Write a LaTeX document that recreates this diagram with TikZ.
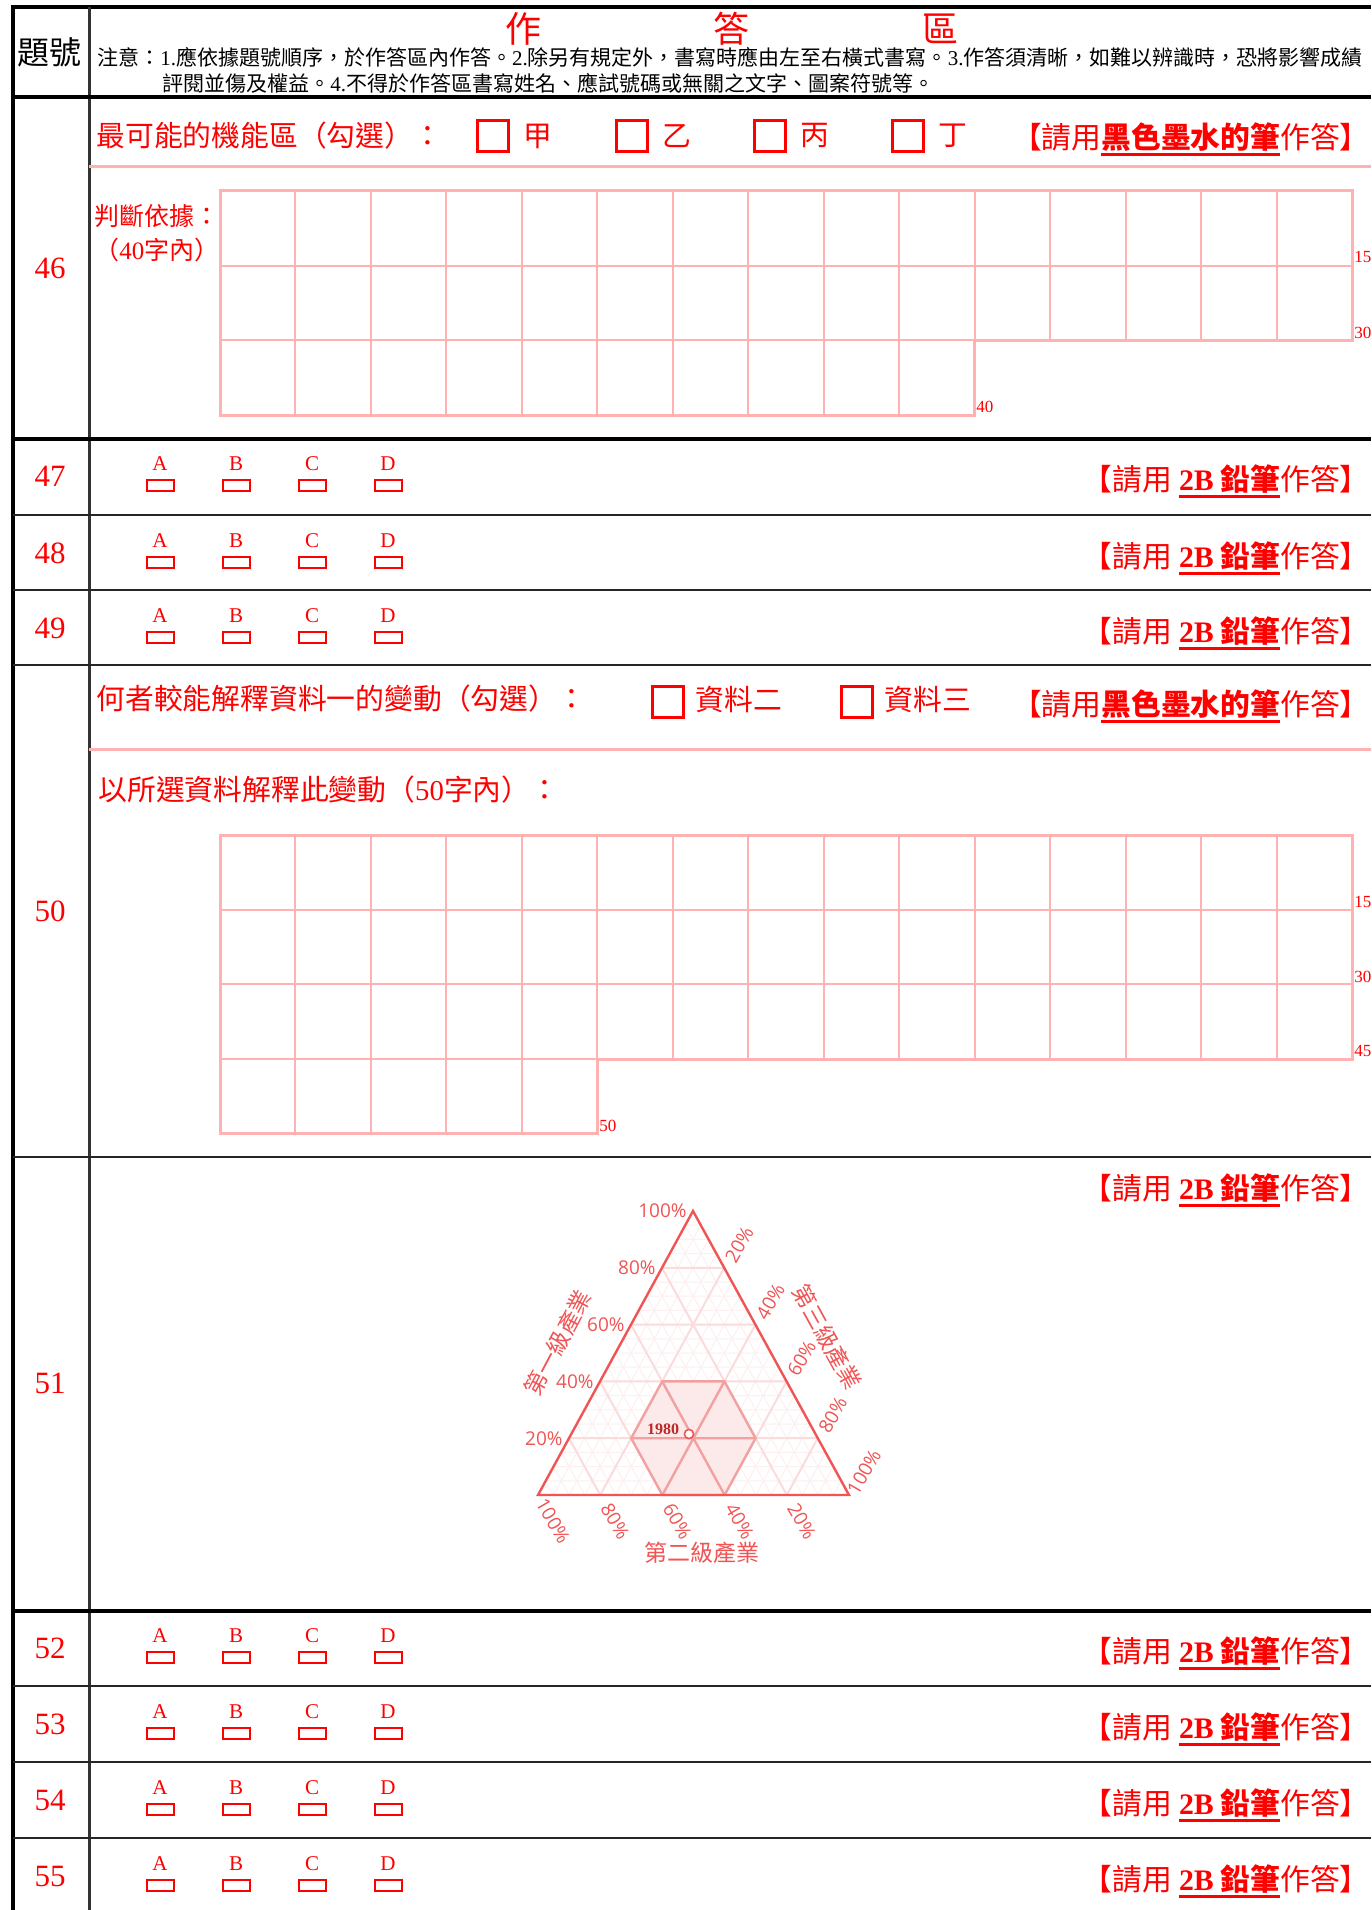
\documentclass[tikz,border=0pt]{standalone}
\usepackage{fontspec}
\setmainfont{Liberation Serif}
\newfontfamily\cjk{Noto Sans CJK TC}
\newfontfamily\trisans{Open Sans}
\newcommand\sz[1]{\fontsize{#1pt}{#1pt}\selectfont}
\newcommand\redul[1]{\setbox0\hbox{#1}\rlap{\color{red}\rule[-3.8pt]{\wd0}{1.5pt}}\box0}
\definecolor{gridpink}{RGB}{255,178,178}
\definecolor{trired}{RGB}{240,84,84}
\definecolor{hexline}{RGB}{242,160,160}
\definecolor{hexfill}{RGB}{252,234,234}
\definecolor{finepink}{RGB}{253,240,240}
\definecolor{midpink}{RGB}{250,220,220}
\definecolor{yrred}{RGB}{190,40,40}

\begin{document}
\begin{tikzpicture}[x=0.5pt,y=-0.5pt,
  frame/.style={line width=2pt},
  rowline/.style={line width=1pt,black!85},
  cell/.style={gridpink,line width=1pt},
  cellframe/.style={gridpink,line width=1.5pt},
  checkbox/.style={red,line width=1.5pt},
  optbox/.style={red,line width=1pt},
  q/.style={red,anchor=west,inner sep=0pt,font=\cjk\sz{14.4}},
  hint/.style={red,anchor=west,inner sep=0pt,font=\cjk\sz{12.5}},
  note/.style={anchor=west,inner sep=0pt,font=\cjk\sz{10.5}},
  ink/.style={red,anchor=east,inner sep=0pt,font=\cjk\sz{14.9}},
  num/.style={red,inner sep=0pt,font=\sz{15.5}},
  letter/.style={red,inner sep=0pt,font=\sz{10.5}},
  count/.style={red,anchor=base west,inner sep=0pt,font=\sz{8.5}},
  finegrid/.style={finepink,line width=0.5pt},
  maingrid/.style={midpink,line width=1pt},
  pct/.style={trired,inner sep=0pt,font=\trisans\sz{9.5}},
  axis/.style={trired,inner sep=0pt,font=\cjk\sz{11.5}}]

\useasboundingbox (0,0) rectangle (1371,1910);
\fill[white] (0,0) rectangle (1371,1910);

\draw[frame] (10.5,6.7) -- (1371,6.7);
\draw[frame] (12.5,5) -- (12.5,1910);
\draw[line width=1.2pt,black!80] (89.3,6.7) -- (89.3,1910);
\foreach \ry in {97,438.5,1610.5}
\draw[frame] (12.5,\ry) -- (1371,\ry);
\foreach \ry in {515,590,665,1157,1686,1762,1838}
\draw[rowline] (12.5,\ry) -- (1371,\ry);

\node[font=\cjk\sz{16}] (tihao) at (50,52) {題號};
\foreach \x/\g in {523/作,731/答,940/區}
\node[red,font=\cjk\sz{18}] (title\x) at (\x,29) {\g};
\node[note] (note1) at (97,57) {注意：{\rmfamily 1.}應依據題號順序，於作答區內作答。{\rmfamily 2.}除另有規定外，書寫時應由左至右橫式書寫。{\rmfamily 3.}作答須清晰，如難以辨識時，恐將影響成績};
\node[note] (note2) at (162,83) {評閱並傷及權益。{\rmfamily 4.}不得於作答區書寫姓名、應試號碼或無關之文字、圖案符號等。};

\node[num] (no46) at (50,268) {46};
\node[q] (q46) at (96,136) {最可能的機能區（勾選）：};
\foreach \x/\g in {493/甲,632/乙,770/丙,908/丁}{
\draw[checkbox] (\x-15.5,120.5) rectangle ++(31,31);
\node[q] (zone\x) at (\x+30,136) {\g};
}
\node[ink] (ink46) at (1370,139) {【請用\redul{\bfseries 黑色墨水的筆}作答】};
\draw[cellframe] (89.3,167) -- (1371,167);
\node[hint] (basis) at (94,216) {判斷依據：};
\node[hint] (limit40) at (94,250) {（{\rmfamily 40}字內）};
\foreach \r in {0,1}
\foreach \c in {0,...,14}
\draw[cell] (220+\c*75.47,191+\r*74.7) rectangle ++(75.47,74.7);
\foreach \c in {0,...,9}
\draw[cell] (220+\c*75.47,340.4) rectangle ++(75.47,74.7);
\draw[cellframe] (220,191) -- (1352,191) -- (1352,340.4) -- (974.7,340.4) -- (974.7,415.1) -- (220,415.1) -- cycle;
\node[count] (c46a) at (1354,263) {15};
\node[count] (c46b) at (1354,338) {30};
\node[count] (c46c) at (976,412) {40};

\foreach \n/\rt in {47/438,48/515,49/590,52/1610,53/1686,54/1762,55/1838}{
\node[num] (no\n) at (50,\rt+38) {\n};
\foreach \opt [count=\ci from 0] in {A,B,C,D}{
\node[letter] (opt\n\opt) at (160+\ci*76,\rt+26) {\opt};
\draw[optbox] (146.5+\ci*76,\rt+42) rectangle ++(27,11);
}
\node[ink] (ink\n) at (1370,\rt+43) {【請用 \redul{\bfseries{\rmfamily 2B} 鉛筆}作答】};
}

\node[num] (no50) at (50,911) {50};
\node[q] (q50) at (96,699) {何者較能解釋資料一的變動（勾選）：};
\foreach \x/\g in {668/資料二,857/資料三}{
\draw[checkbox] (\x-15.5,686.5) rectangle ++(31,31);
\node[q] (data\x) at (\x+27,700) {\g};
}
\node[ink] (ink50) at (1370,706) {【請用\redul{\bfseries 黑色墨水的筆}作答】};
\draw[cellframe] (89.3,749) -- (1371,749);
\node[q] (ask50) at (98,790) {以所選資料解釋此變動（{\rmfamily 50}字內）：};
\foreach \r in {0,1,2}
\foreach \c in {0,...,14}
\draw[cell] (220+\c*75.47,835+\r*74.7) rectangle ++(75.47,74.7);
\foreach \c in {0,...,4}
\draw[cell] (220+\c*75.47,1059.1) rectangle ++(75.47,74.7);
\draw[cellframe] (220,835) -- (1352,835) -- (1352,1059.1) -- (597.4,1059.1) -- (597.4,1133.8) -- (220,1133.8) -- cycle;
\node[count] (c50a) at (1354,907) {15};
\node[count] (c50b) at (1354,982) {30};
\node[count] (c50c) at (1354,1056) {45};
\node[count] (c50d) at (599,1131) {50};

\node[num] (no51) at (50,1383) {51};
\node[ink] (ink51) at (1370,1190) {【請用 \redul{\bfseries{\rmfamily 2B} 鉛筆}作答】};
\coordinate (top) at (693,1211);
\coordinate (lft) at (538,1495);
\coordinate (rgt) at (849,1495);
\foreach \k [evaluate=\k as \ta using \k/20, evaluate=\k as \tb using 1-\k/20] in {1,...,19}
\draw[finegrid] (barycentric cs:top=\ta,lft=\tb,rgt=0) -- (barycentric cs:top=\ta,lft=0,rgt=\tb)
(barycentric cs:lft=\ta,top=\tb,rgt=0) -- (barycentric cs:lft=\ta,top=0,rgt=\tb)
(barycentric cs:rgt=\ta,top=\tb,lft=0) -- (barycentric cs:rgt=\ta,top=0,lft=\tb);
\foreach \k [evaluate=\k as \ta using \k/5, evaluate=\k as \tb using 1-\k/5] in {1,...,4}
\draw[maingrid] (barycentric cs:top=\ta,lft=\tb,rgt=0) -- (barycentric cs:top=\ta,lft=0,rgt=\tb)
(barycentric cs:lft=\ta,top=\tb,rgt=0) -- (barycentric cs:lft=\ta,top=0,rgt=\tb)
(barycentric cs:rgt=\ta,top=\tb,lft=0) -- (barycentric cs:rgt=\ta,top=0,lft=\tb);
\coordinate (hc) at (barycentric cs:top=0.2,lft=0.4,rgt=0.4);
\coordinate (h1) at (barycentric cs:top=0.4,lft=0.4,rgt=0.2);
\coordinate (h2) at (barycentric cs:top=0.4,lft=0.2,rgt=0.4);
\coordinate (h3) at (barycentric cs:top=0.2,lft=0.2,rgt=0.6);
\coordinate (h4) at (barycentric cs:top=0,lft=0.4,rgt=0.6);
\coordinate (h5) at (barycentric cs:top=0,lft=0.6,rgt=0.4);
\coordinate (h6) at (barycentric cs:top=0.2,lft=0.6,rgt=0.2);
\filldraw[hexline,fill=hexfill,line width=1.2pt] (h1) -- (h2) -- (h3) -- (h4) -- (h5) -- (h6) -- cycle;
\draw[hexline,line width=1.2pt] (h6) -- (h3) (h1) -- (h4) (h2) -- (h5);
\draw[trired,line width=1.2pt] (top) -- (lft) -- (rgt) -- cycle;
\coordinate (pt1980) at (689,1434);
\draw[trired,line width=0.8pt,fill=white] (pt1980) circle (2.3pt);
\node[yrred,inner sep=0pt,font=\sz{8}\bfseries] (yr1980) at (663,1429) {1980};
\foreach \k/\pc in {1/20,2/40,3/60,4/80,5/100}{
\node[pct,anchor=east] (pl\k) at ({532+31*\k},{1495-56.8*\k}) {\pc\%};
\node[pct,rotate=60] (pr\k) at ({708+31.2*\k},{1188+56.8*\k}) {\pc\%};
\node[pct,rotate=-60] (pb\k) at ({864-62.2*\k},1521) {\pc\%};
}
\node[axis,rotate=62] (ax1) at (558,1343) {第一級產業};
\node[axis] (ax2) at (702,1553) {第二級產業};
\node[axis,rotate=-61] (ax3) at (827,1337) {第三級產業};
\end{tikzpicture}
\end{document}
